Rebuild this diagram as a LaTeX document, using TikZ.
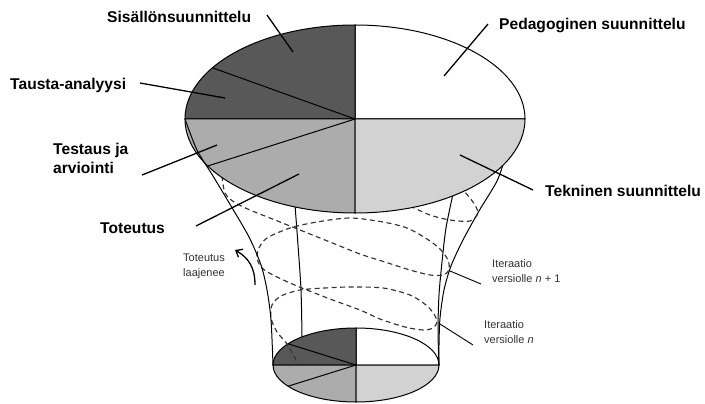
\documentclass[tikz,border=0pt]{standalone}
\usepackage{fontspec}
\setmainfont{Liberation Sans}
\usetikzlibrary{arrows.meta,calc}
\definecolor{dkg}{RGB}{88,88,88}
\definecolor{mdg}{RGB}{172,172,172}
\definecolor{ltg}{RGB}{210,210,210}
\newcommand\piesector[6]{%
  \filldraw[fill=#6,draw=black,line width=1pt] (#1) -- ++(#4:#2 and #3)
    arc[start angle=#4,end angle=#5,x radius=#2,y radius=#3] -- cycle;}
\begin{document}
\begin{tikzpicture}[x=1pt,y=-1pt,
  outline/.style={draw=black,line width=1pt},
  leader/.style={draw=black,line width=1.3pt},
  dsh/.style={draw=black!80,line width=1.15pt,dash pattern=on 5pt off 3.5pt},
  biglbl/.style={font=\fontsize{15.6}{19}\selectfont\bfseries,inner sep=0pt,anchor=base west,align=left},
  smlbl/.style={font=\fontsize{11}{14.5}\selectfont,text=black!80,inner sep=0pt,anchor=base west,align=left}]
\useasboundingbox (0,0) rectangle (705,404);

% bottom disc
\coordinate (c2) at (356,365);
\piesector{c2}{83pt}{37pt}{0}{90}{white}
\piesector{c2}{83pt}{37pt}{90}{180}{dkg}
\piesector{c2}{83pt}{37pt}{180}{270}{mdg}
\piesector{c2}{83pt}{37pt}{270}{360}{ltg}
\draw[outline] (c2) -- ++(145:83pt and 37pt);
\draw[outline] (c2) -- ++(215:83pt and 37pt);

% funnel back lines
\draw[outline] plot[smooth] coordinates {(295,205) (298,245) (301,290) (302,337)};
\draw[outline] plot[smooth] coordinates {(453,194) (446,228) (442,262) (439,295) (438,330) (439,365)};
\draw[outline] plot[smooth] coordinates {(505,158) (497,181) (479,211) (463,240) (451,266) (444,290) (440,318) (439,345) (439,365)};

% helix (dashed)
\draw[dsh] plot[smooth] coordinates {(410,206) (430,215) (450,220) (470,221) (478,213) (473,202) (464,191)};
\draw[dsh] plot[smooth] coordinates {(222,176) (225,193) (234,202) (250,210) (275,220) (300,230) (330,242) (360,254) (385,262) (410,270) (430,275) (443,275) (449,270) (448,260) (440,249) (427,239) (407,228) (383,222) (350,218) (317,222) (290,228) (267,238) (259,248) (257,258) (262,268) (275,276) (297,286) (330,299) (360,310) (380,319) (405,327) (423,330) (433,328) (437,322) (434,314) (426,305) (410,295) (383,288) (350,287) (325,288) (300,290) (281,296) (272,305) (271,318) (277,332) (287,344) (297,362)};

% top disc
\coordinate (c1) at (355,119);
\piesector{c1}{170pt}{94pt}{0}{90}{white}
\piesector{c1}{170pt}{94pt}{90}{180}{dkg}
\piesector{c1}{170pt}{94pt}{180}{270}{mdg}
\piesector{c1}{170pt}{94pt}{270}{360}{ltg}
\draw[outline] (c1) -- ++(147:170pt and 94pt);
\draw[outline] (c1) -- ++(210:170pt and 94pt);

% left outer funnel line (in front)
\draw[outline] plot[smooth] coordinates {(185,119) (197,150) (213,176) (231,206) (249,237) (261,265) (267,290) (271,320) (273,365)};

% labels
\node[biglbl] (sis) at (107,23) {Sisällönsuunnittelu};
\node[biglbl] (ped) at (499,30) {Pedagoginen suunnittelu};
\node[biglbl] (tau) at (10,90) {Tausta-analyysi};
\node[biglbl] (tes) at (53,173) {Testaus ja\\arviointi};
\node[biglbl] (tot) at (100,233) {Toteutus};
\node[biglbl] (tek) at (545,196) {Tekninen suunnittelu};
\node[smlbl] (laa) at (183,276) {Toteutus\\laajenee};
\node[smlbl] (it1) at (492,282) {Iteraatio\\versiolle \textit{n} + 1};
\node[smlbl] (it0) at (484,343) {Iteraatio\\versiolle \textit{n}};

% leader lines
\coordinate (sisA) at (267,15);  \coordinate (sisB) at (293,52);
\coordinate (pedA) at (488,24);  \coordinate (pedB) at (444,76);
\coordinate (tauA) at (140,83);  \coordinate (tauB) at (225,98);
\coordinate (tesA) at (142,175); \coordinate (tesB) at (217,145);
\coordinate (totA) at (196,226); \coordinate (totB) at (299,174);
\coordinate (tekA) at (460,155); \coordinate (tekB) at (533,190);
\coordinate (it1A) at (450,271); \coordinate (it1B) at (481,284);
\coordinate (it0A) at (440,324); \coordinate (it0B) at (473,345);
\draw[leader] (sisA) -- (sisB);
\draw[leader] (pedA) -- (pedB);
\draw[leader] (tauA) -- (tauB);
\draw[leader] (tesA) -- (tesB);
\draw[leader] (totA) -- (totB);
\draw[leader] (tekA) -- (tekB);
\draw[leader,line width=0.9pt] (it1A) -- (it1B);
\draw[leader,line width=0.9pt] (it0A) -- (it0B);

% arrow
\coordinate (arA) at (255,285);
\coordinate (arB) at (235,250);
\draw[line width=1.3pt,-{Straight Barb[length=5.5pt,width=9pt]}] (arA) .. controls (255,268) and (249,258) .. (arB);
\end{tikzpicture}
\end{document}
